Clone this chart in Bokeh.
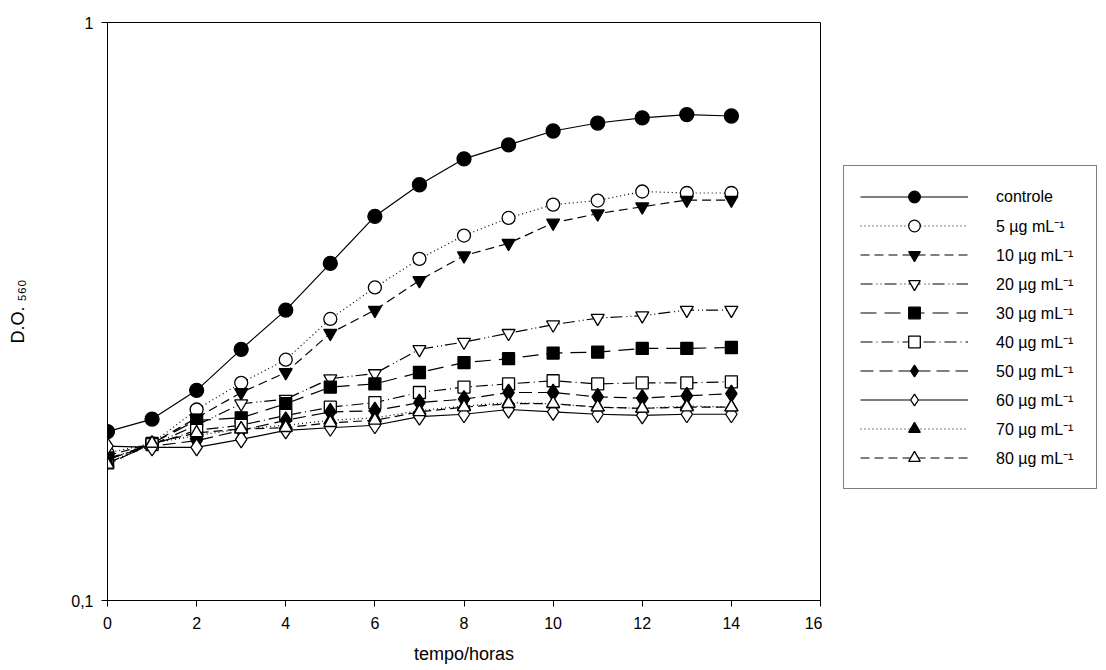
from bokeh.plotting import figure
from bokeh.layouts import row
from bokeh.models import (Range1d, FixedTicker, CustomJSTickFormatter, Legend, LegendItem)
from bokeh.embed import file_html
from bokeh.resources import INLINE

# ---------------- data ----------------
tempo = list(range(0, 15))
series_names = ["controle", "5 µg mL⁻¹", "10 µg mL⁻¹", "20 µg mL⁻¹", "30 µg mL⁻¹",
                "40 µg mL⁻¹", "50 µg mL⁻¹", "60 µg mL⁻¹", "70 µg mL⁻¹", "80 µg mL⁻¹"]
controle = [0.196, 0.206, 0.231, 0.272, 0.318, 0.383, 0.462, 0.524, 0.581, 0.614, 0.649, 0.670, 0.684, 0.693, 0.689]
c5 = [0.180, 0.187, 0.214, 0.238, 0.261, 0.307, 0.348, 0.390, 0.428, 0.459, 0.484, 0.492, 0.510, 0.507, 0.507]
c10 = [0.178, 0.187, 0.207, 0.229, 0.248, 0.290, 0.318, 0.358, 0.395, 0.415, 0.450, 0.467, 0.480, 0.493, 0.493]
c20 = [0.176, 0.186, 0.201, 0.219, 0.223, 0.242, 0.247, 0.272, 0.280, 0.290, 0.300, 0.308, 0.311, 0.318, 0.318]
c30 = [0.175, 0.187, 0.205, 0.207, 0.219, 0.234, 0.237, 0.248, 0.258, 0.262, 0.268, 0.269, 0.273, 0.273, 0.274]
c40 = [0.173, 0.186, 0.197, 0.201, 0.209, 0.216, 0.220, 0.229, 0.234, 0.237, 0.240, 0.237, 0.238, 0.238, 0.239]
c50 = [0.176, 0.185, 0.189, 0.197, 0.205, 0.212, 0.213, 0.220, 0.223, 0.229, 0.229, 0.225, 0.224, 0.226, 0.228]
c60 = [0.185, 0.184, 0.184, 0.190, 0.197, 0.199, 0.201, 0.208, 0.210, 0.214, 0.212, 0.210, 0.209, 0.210, 0.210]
c70 = [0.173, 0.187, 0.193, 0.198, 0.201, 0.205, 0.207, 0.213, 0.217, 0.220, 0.219, 0.216, 0.215, 0.217, 0.216]
c80 = [0.172, 0.187, 0.195, 0.198, 0.199, 0.203, 0.205, 0.212, 0.216, 0.219, 0.219, 0.216, 0.215, 0.216, 0.216]
x_ticks = [0, 2, 4, 6, 8, 10, 12, 14, 16]
y_ticks = [0.1, 1]

series = [controle, c5, c10, c20, c30, c40, c50, c60, c70, c80]
markers = ["circle", "circle", "inverted_triangle", "inverted_triangle", "square",
           "square", "diamond", "diamond", "triangle", "triangle"]
filled = [True, False, True, False, True, False, True, False, True, False]
dashes = ["solid", "1 3", "9 5", "12 4 1 3 1 3", "16 8", "12 4 1 4", "13 6", "solid", "1 3", "9 5"]
sizes = [14, 13, 13, 13, 12, 12, 17, 17, 13, 13]

FONT = "Liberation Sans"
H = 668

p = figure(width=822, height=H, output_backend="svg", toolbar_location=None,
           x_range=Range1d(0, 16), y_range=Range1d(0.1, 1), y_axis_type="log",
           min_border_left=107, min_border_right=2, min_border_top=22, min_border_bottom=68)
p.background_fill_color = "white"
p.border_fill_color = "white"
p.outline_line_color = "black"
p.outline_line_width = 1
p.grid.visible = False

p.xaxis.ticker = FixedTicker(ticks=x_ticks)
p.yaxis.ticker = FixedTicker(ticks=y_ticks)
p.yaxis.formatter = CustomJSTickFormatter(code="return tick < 0.5 ? '0,1' : '1';")
for ax in (p.xaxis, p.yaxis):
    ax.axis_line_color = "black"
    ax.major_tick_line_color = "black"
    ax.major_tick_out = 6
    ax.major_tick_in = 0
    ax.minor_tick_out = 0
    ax.minor_tick_in = 0
    ax.major_label_text_font = FONT
    ax.major_label_text_font_size = "16px"
    ax.major_label_text_color = "black"
p.xaxis.major_label_standoff = 10
p.yaxis.major_label_standoff = 8
p.xaxis.axis_label = "tempo/horas"
p.xaxis.axis_label_standoff = 12
p.yaxis.axis_label = "D.O. ₅₆₀"
p.yaxis.axis_label_standoff = 40
for ax in (p.xaxis, p.yaxis):
    ax.axis_label_text_font = FONT
    ax.axis_label_text_font_size = "18px"
    ax.axis_label_text_font_style = "normal"
    ax.axis_label_text_color = "black"

# Legend panel: a second, axis-less figure whose ranges keep its copies of the
# series out of view, so that only its legend is seen.
q = figure(width=276, height=H, output_backend="svg", toolbar_location=None,
           x_range=Range1d(100, 101), y_range=Range1d(100, 101),
           x_axis_location=None, y_axis_location=None,
           min_border_left=0, min_border_right=0, min_border_top=0, min_border_bottom=0)
q.outline_line_color = None
q.grid.visible = False
q.background_fill_color = "white"
q.border_fill_color = "white"

items = []
for name, ys, m, f, d, s in zip(series_names, series, markers, filled, dashes, sizes):
    fc = "black" if f else "white"
    p.line(tempo, ys, line_color="black", line_width=1.2, line_dash=d)
    p.scatter(tempo, ys, marker=m, size=s, line_color="black", line_width=1.3, fill_color=fc)
    ln = q.line(tempo, ys, line_color="black", line_width=1.2, line_dash=d)
    sc = q.scatter(tempo, ys, marker=m, size=s, line_color="black", line_width=1.3, fill_color=fc)
    items.append(LegendItem(label=name, renderers=[ln, sc]))

legend = Legend(items=items, location=(21, 111), glyph_width=108, glyph_height=29,
                spacing=0, padding=16, label_standoff=28, label_width=84, margin=0,
                label_text_font=FONT, label_text_font_size="16px", label_text_color="black",
                border_line_color="black", border_line_width=1,
                background_fill_alpha=1)
q.add_layout(legend, "center")

layout = row(p, q)
open("out.html", "w").write(file_html(layout, INLINE))
